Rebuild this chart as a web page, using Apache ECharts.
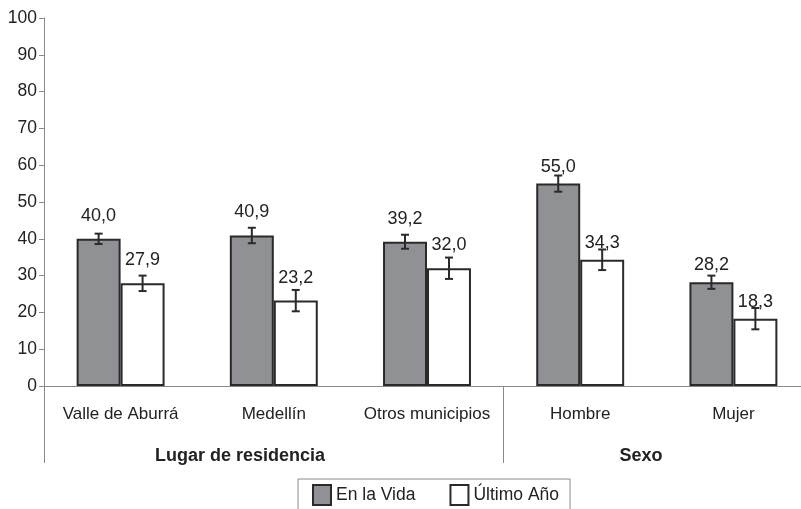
<!DOCTYPE html>
<html><head><meta charset="utf-8">
<script src="https://cdn.jsdelivr.net/npm/echarts@6/dist/echarts.min.js"></script>
<style>html,body{margin:0;padding:0;background:#fff}#c{width:801px;height:509px}</style>
</head><body><div id="c"></div>
<script>
const categories = ['Valle de Aburrá', 'Medellín', 'Otros municipios', 'Hombre', 'Mujer'];
const groups = ['Lugar de residencia', 'Sexo'];
const groupOf = [0, 0, 0, 1, 1];
const seriesNames = ['En la Vida', 'Último Año'];
const enLaVida = [40.0, 40.9, 39.2, 55.0, 28.2];
const ultimoAno = [27.9, 23.2, 32.0, 34.3, 18.3];
const errEnLaVida = [1.4, 2.1, 1.9, 2.2, 1.8];
const errUltimoAno = [2.1, 2.9, 2.9, 2.8, 2.9];
const yTicks = [0, 10, 20, 30, 40, 50, 60, 70, 80, 90, 100];

const FONT = 'Liberation Sans, Arial, sans-serif';
const GAP = 0.426;
const chart = echarts.init(document.getElementById('c'), null, {renderer: 'canvas'});
const fmt = v => v.toFixed(1).replace('.', ',');

function barData(vals) {
  return vals.map((v, i) => ({
    value: v,
    label: {distance: groupOf[i] === 0 ? 14 : 8}
  }));
}

function errSeries(vals, errs, side) {
  return {
    type: 'custom',
    silent: true,
    z: 5,
    data: vals.map((v, i) => [i, v, errs[i]]),
    renderItem: function (params, api) {
      const i = api.value(0), v = api.value(1), e = api.value(2);
      const band = api.size([1, 0])[0];
      const bw = band * (1 - GAP) / 2;
      const c = api.coord([i, v]);
      const x = c[0] + side * bw / 2;
      const yt = api.coord([i, v + e])[1];
      const yb = api.coord([i, v - e])[1];
      const cap = 4;
      const st = {stroke: '#2a2a2a', lineWidth: 2};
      return {type: 'group', children: [
        {type: 'line', shape: {x1: x, y1: yt, x2: x, y2: yb}, style: st},
        {type: 'line', shape: {x1: x - cap, y1: yt, x2: x + cap, y2: yt}, style: st},
        {type: 'line', shape: {x1: x - cap, y1: yb, x2: x + cap, y2: yb}, style: st}
      ]};
    }
  };
}

const valueLabel = {show: true, position: 'top', fontSize: 18, color: '#222',
  fontFamily: FONT, formatter: p => fmt(p.value)};

const option = {
  animation: false,
  backgroundColor: '#fff',
  textStyle: {fontFamily: FONT},
  grid: {left: 44, top: 18, width: 766, height: 368, outerBoundsMode: 'none', containLabel: false},
  legend: {
    left: 298, top: 479,
    data: [{name: seriesNames[0], icon: 'rect'}, {name: seriesNames[1], icon: 'rect'}],
    itemWidth: 18, itemHeight: 20, itemGap: 34,
    borderColor: '#8a8a8a', borderWidth: 1,
    padding: [5, 11, 12, 14],
    textStyle: {fontSize: 17.5, color: '#222', fontFamily: FONT}
  },
  xAxis: [{
    type: 'category',
    data: categories,
    axisLine: {lineStyle: {color: '#8a8a8a', width: 1}},
    axisTick: {length: 5, interval: 0, lineStyle: {color: '#8a8a8a'}},
    axisLabel: {fontSize: 17, color: '#222', margin: 20, interval: 0, hideOverlap: false, fontFamily: FONT}
  }, {
    type: 'category',
    data: categories,
    position: 'bottom',
    axisLine: {show: false},
    axisLabel: {show: false},
    axisTick: {show: true, length: 77, lineStyle: {color: '#8a8a8a'},
      interval: function (idx) { return idx === 0 || idx === 3; }}
  }],
  yAxis: {
    type: 'value', min: 0, max: 100, interval: 10,
    axisLine: {show: true, lineStyle: {color: '#8a8a8a'}},
    axisTick: {show: true, length: 5, lineStyle: {color: '#8a8a8a'}},
    splitLine: {show: false},
    axisLabel: {fontSize: 17.5, color: '#222', margin: 7, fontFamily: FONT,
      formatter: v => yTicks.includes(v) ? String(v) : ''}
  },
  series: [{
    name: seriesNames[0], type: 'bar', data: barData(enLaVida),
    barGap: '0%', barCategoryGap: (GAP * 100) + '%',
    itemStyle: {color: '#909195', borderColor: '#2a2a2a', borderWidth: 2},
    label: valueLabel
  }, {
    name: seriesNames[1], type: 'bar', data: barData(ultimoAno),
    itemStyle: {color: '#ffffff', borderColor: '#2a2a2a', borderWidth: 2},
    label: valueLabel
  },
  errSeries(enLaVida, errEnLaVida, -1),
  errSeries(ultimoAno, errUltimoAno, 1)
  ],
  graphic: [
    {type: 'text', x: 240, y: 456, style: {text: groups[0], font: 'bold 18px ' + FONT, fill: '#222', align: 'center', verticalAlign: 'middle'}},
    {type: 'text', x: 641, y: 456, style: {text: groups[1], font: 'bold 18px ' + FONT, fill: '#222', align: 'center', verticalAlign: 'middle'}}
  ]
};
chart.setOption(option);
</script>
</body></html>
